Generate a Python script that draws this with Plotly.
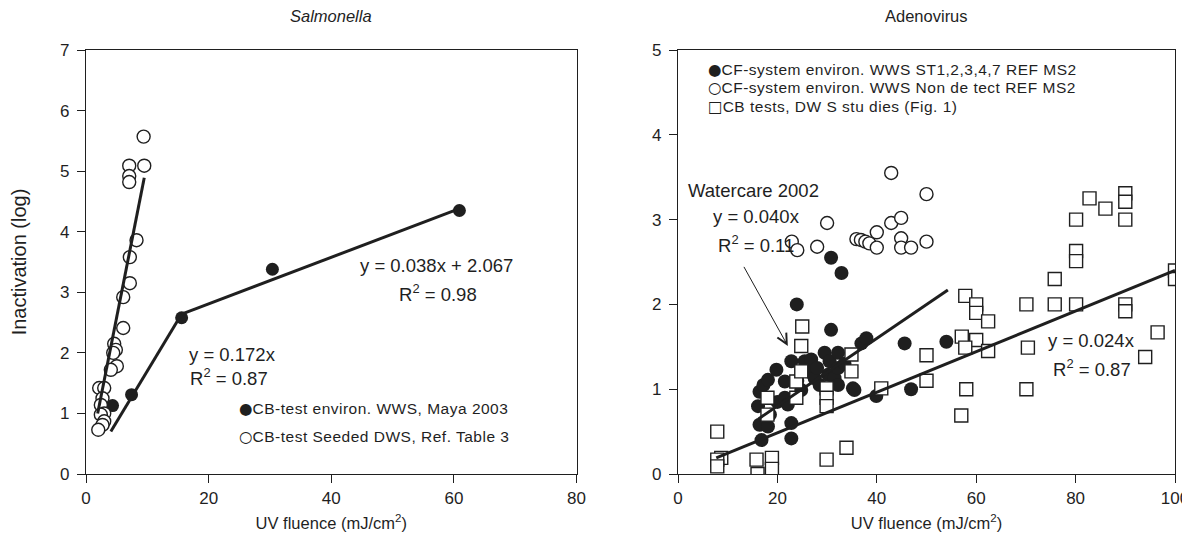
import plotly.graph_objects as go

# ---------------- data: Salmonella (left) ----------------
sal_env_x = [4.33, 7.43, 15.6, 30.4, 60.9]
sal_env_y = [1.13, 1.31, 2.58, 3.38, 4.35]

sal_seed_x = [9.4, 7.05, 9.5, 7.05, 7.05, 8.24, 7.15, 7.15, 6.07, 6.07, 4.6, 4.87,
              4.44, 5.03, 4.05, 2.15, 2.97, 2.69, 2.42, 2.97, 2.42, 2.97, 2.69, 2.0]
sal_seed_y = [5.57, 5.09, 5.09, 4.92, 4.82, 3.86, 3.58, 3.15, 2.92, 2.41, 2.15, 2.05,
              2.0, 1.78, 1.72, 1.42, 1.42, 1.25, 1.14, 1.0, 0.98, 0.87, 0.81, 0.73]

sal_fit_seed_x = [1.9, 9.5]
sal_fit_seed_y = [1.0, 4.89]
sal_fit1_x = [4.05, 15.6]
sal_fit1_y = [0.70, 2.64]
sal_fit2_x = [15.6, 60.9]
sal_fit2_y = [2.64, 4.38]

# ---------------- data: Adenovirus (right) ----------------
adv_st_x = [16.1, 16.4, 16.4, 16.8, 17.2, 18.1, 18.1, 18.5, 19.8, 20.0, 21.5, 21.5,
            22.1, 22.8, 22.8, 22.8, 23.9, 24.8, 25.5, 26.2, 26.8, 27.5, 28.5, 29.5,
            30.2, 30.5, 30.8, 30.8, 31.5, 32.2, 32.2, 32.2, 32.9, 33.5, 35.2, 35.5,
            36.9, 37.9, 39.9, 45.6, 46.9, 54.0, 28.0, 24.0]
adv_st_y = [0.80, 0.97, 0.58, 0.40, 1.05, 1.11, 0.56, 0.70, 1.23, 0.85, 1.09, 0.90,
            0.82, 1.33, 0.60, 0.42, 2.00, 0.99, 1.33, 1.21, 1.35, 1.13, 1.05, 1.43,
            1.17, 1.33, 1.70, 2.55, 1.13, 1.43, 1.25, 1.05, 2.37, 1.30, 1.01, 0.99,
            1.54, 1.60, 0.92, 1.54, 1.00, 1.56, 1.25, 1.10]

adv_nd_x = [22.9, 24.0, 28.0, 30.0, 35.9, 36.8, 37.7, 38.5, 40.0, 40.0, 42.9, 42.9,
            44.9, 44.9, 44.9, 46.9, 50.0, 50.0]
adv_nd_y = [2.74, 2.64, 2.68, 2.96, 2.77, 2.76, 2.74, 2.72, 2.67, 2.85, 3.55, 2.96,
            3.02, 2.78, 2.67, 2.67, 3.30, 2.74]

adv_cb_x = [7.9, 8.7, 7.9, 7.9, 15.8, 16.0, 18.9, 18.9, 29.9, 33.9, 18.0, 18.0,
            23.8, 23.8, 24.8, 24.8, 25.0, 29.9, 29.9, 29.9, 34.9, 34.9, 40.9,
            57.8, 60.0, 60.0, 62.4, 57.1, 60.0, 70.1, 75.8, 75.8, 80.1, 80.1, 80.1,
            80.1, 82.8, 86.0, 90.0, 90.0, 90.0, 90.0, 90.0, 57.8, 62.4, 70.4, 50.0,
            50.0, 58.0, 70.1, 57.0, 94.0, 96.5, 100.0, 100.0]
adv_cb_y = [0.50, 0.19, 0.17, 0.09, 0.17, 0.00, 0.19, 0.06, 0.17, 0.31, 0.90, 0.70,
            0.90, 1.09, 1.21, 1.51, 1.74, 1.01, 0.90, 0.80, 1.41, 1.21, 1.01,
            2.10, 2.00, 1.90, 1.80, 1.62, 1.58, 2.00, 2.00, 2.30, 2.00, 2.63, 2.51,
            3.00, 3.25, 3.13, 3.31, 3.21, 3.00, 2.00, 1.92, 1.49, 1.45, 1.49, 1.40,
            1.10, 1.00, 1.00, 0.69, 1.38, 1.67, 2.40, 2.30]

adv_fit_wc_x = [16.2, 54.3]
adv_fit_wc_y = [0.65, 2.17]
adv_fit_all_x = [7.7, 100.0]
adv_fit_all_y = [0.19, 2.40]

# legend-box texts (typed text boxes in the original)
sal_key_sym = ["\u25cf", "\u25cb"]
sal_key = ["CB-test environ. WWS, Maya 2003", "CB-test Seeded DWS, Ref. Table 3"]
adv_key_sym = ["\u25cf", "\u25cb", "\u25a1"]
adv_key = ["CF-system environ. WWS ST1,2,3,4,7 REF MS2",
           "CF-system environ. WWS Non de tect REF MS2",
           "CB tests, DW S stu dies (Fig. 1)"]

# ---------------- style ----------------
FONT = "Liberation Sans, Arial, Helvetica, sans-serif"
INK = "#1f1f1f"
W, H = 1190, 545
ML, MR, MT, MB = 78, 23, 42, 79
PH = H - MT - MB


def py(p):
    """pixel row -> paper y"""
    return (H - MB - p) / PH


def key_text(sym, txt):
    return ("<span style='font-family:DejaVu Sans'>" + sym + "</span>"
            "<span style='letter-spacing:0.5px'>" + txt + "</span>")


fig = go.Figure()

fig.add_trace(go.Scatter(
    x=sal_env_x, y=sal_env_y, mode="markers", name=sal_key[0],
    marker=dict(symbol="circle", size=13, color=INK, line=dict(width=0)),
    xaxis="x", yaxis="y"))
fig.add_trace(go.Scatter(
    x=sal_seed_x, y=sal_seed_y, mode="markers", name=sal_key[1],
    marker=dict(symbol="circle", size=13, color="white", line=dict(width=1.4, color=INK)),
    xaxis="x", yaxis="y"))
for fx, fy in [(sal_fit_seed_x, sal_fit_seed_y), (sal_fit1_x, sal_fit1_y), (sal_fit2_x, sal_fit2_y)]:
    fig.add_trace(go.Scatter(x=fx, y=fy, mode="lines", line=dict(color=INK, width=3),
                             hoverinfo="skip", xaxis="x", yaxis="y"))

fig.add_trace(go.Scatter(
    x=adv_st_x, y=adv_st_y, mode="markers", name=adv_key[0],
    marker=dict(symbol="circle", size=14, color=INK, line=dict(width=0)),
    xaxis="x2", yaxis="y2"))
fig.add_trace(go.Scatter(
    x=adv_nd_x, y=adv_nd_y, mode="markers", name=adv_key[1],
    marker=dict(symbol="circle", size=13, color="white", line=dict(width=1.4, color=INK)),
    xaxis="x2", yaxis="y2"))
fig.add_trace(go.Scatter(
    x=adv_cb_x, y=adv_cb_y, mode="markers", name=adv_key[2],
    marker=dict(symbol="square", size=13, color="white", line=dict(width=1.4, color=INK)),
    xaxis="x2", yaxis="y2"))
for fx, fy in [(adv_fit_wc_x, adv_fit_wc_y), (adv_fit_all_x, adv_fit_all_y)]:
    fig.add_trace(go.Scatter(x=fx, y=fy, mode="lines", line=dict(color=INK, width=3),
                             hoverinfo="skip", xaxis="x2", yaxis="y2"))

plot_w = W - ML - MR
x1_dom = [0.0, (568.5 - ML) / plot_w]
x2_dom = [(670 - ML) / plot_w, 1.0]

axis_common = dict(
    showline=True, linecolor=INK, linewidth=1.3, mirror=True,
    ticks="outside", ticklen=8, tickwidth=1.3, tickcolor=INK,
    showgrid=False, zeroline=False, automargin=False,
    tickfont=dict(family=FONT, size=17, color=INK),
)
title_font = dict(family=FONT, size=16.5, color=INK)

fig.update_layout(
    template="none",
    width=W, height=H,
    margin=dict(l=ML, r=MR, t=MT, b=MB),
    paper_bgcolor="white", plot_bgcolor="white",
    font=dict(family=FONT, size=14, color=INK),
    showlegend=False,
    xaxis=dict(domain=x1_dom, range=[0, 80], tickvals=[0, 20, 40, 60, 80], anchor="y",
               title=dict(text="UV fluence (mJ/cm<sup>2</sup>)", standoff=10, font=title_font),
               **axis_common),
    yaxis=dict(domain=[0, 1], range=[0, 7], tickvals=list(range(8)), anchor="x",
               ticklabelstandoff=4,
               title=dict(text="Inactivation (log)", standoff=27,
                          font=dict(family=FONT, size=20, color=INK)),
               **axis_common),
    xaxis2=dict(domain=x2_dom, range=[0, 100], tickvals=[0, 20, 40, 60, 80, 100], anchor="y2",
                title=dict(text="UV fluence (mJ/cm<sup>2</sup>)", standoff=10, font=title_font),
                **axis_common),
    yaxis2=dict(domain=[0, 1], range=[0, 5], tickvals=list(range(6)), anchor="x2",
                ticklabelstandoff=4, **axis_common),
)

ann_font = dict(family=FONT, size=18.5, color=INK)
annotations = [
    dict(text="<i>Salmonella</i>", xref="x domain", yref="paper", x=0.5, y=py(8),
         yanchor="middle", showarrow=False, font=dict(family=FONT, size=16.5, color=INK)),
    dict(text="Adenovirus", xref="x2 domain", yref="paper", x=0.5, y=py(8),
         yanchor="middle", showarrow=False, font=dict(family=FONT, size=16.5, color=INK)),
    dict(text="y = 0.172x", xref="x", yref="y", x=23.9, y=1.98, showarrow=False, font=ann_font),
    dict(text="R<sup>2</sup> = 0.87", xref="x", yref="y", x=23.4, y=1.60, showarrow=False, font=ann_font),
    dict(text="y = 0.038x + 2.067", xref="x", yref="y", x=57.2, y=3.45, showarrow=False, font=ann_font),
    dict(text="R<sup>2</sup> = 0.98", xref="x", yref="y", x=57.4, y=2.99, showarrow=False, font=ann_font),
    dict(text="Watercare 2002", xref="x2", yref="y2", x=1.6, y=3.34, xanchor="left",
         showarrow=False, font=ann_font),
    dict(text="y = 0.040x", xref="x2", yref="y2", x=6.6, y=3.04, xanchor="left",
         showarrow=False, font=ann_font),
    dict(text="R<sup>2</sup> = 0.11", xref="x2", yref="y2", x=7.6, y=2.71, xanchor="left",
         showarrow=False, font=ann_font),
    dict(text="", xref="x2", yref="y2", x=22.1, y=1.51, axref="x2", ayref="y2",
         ax=13.1, ay=2.46, showarrow=True, arrowhead=5, arrowsize=2, arrowwidth=1,
         arrowcolor=INK, standoff=0),
    dict(text="y = 0.024x", xref="x2", yref="y2", x=74.0, y=1.58, xanchor="left",
         showarrow=False, font=ann_font),
    dict(text="R<sup>2</sup> = 0.87", xref="x2", yref="y2", x=75.0, y=1.25, xanchor="left",
         showarrow=False, font=ann_font),
]
for i, (s, t) in enumerate(zip(sal_key_sym, sal_key)):
    annotations.append(dict(text=key_text(s, t), xref="x", yref="paper", x=24.6,
                            y=py(401 + 28 * i), xanchor="left", yanchor="middle",
                            showarrow=False, font=dict(family=FONT, size=15.5, color=INK)))
for i, (s, t) in enumerate(zip(adv_key_sym, adv_key)):
    annotations.append(dict(text=key_text(s, t), xref="x2", yref="paper", x=5.6,
                            y=py(62 + 18.3 * i), xanchor="left", yanchor="middle",
                            showarrow=False, font=dict(family=FONT, size=15.5, color=INK)))
fig.update_layout(annotations=annotations)

fig.write_html("out.html")
